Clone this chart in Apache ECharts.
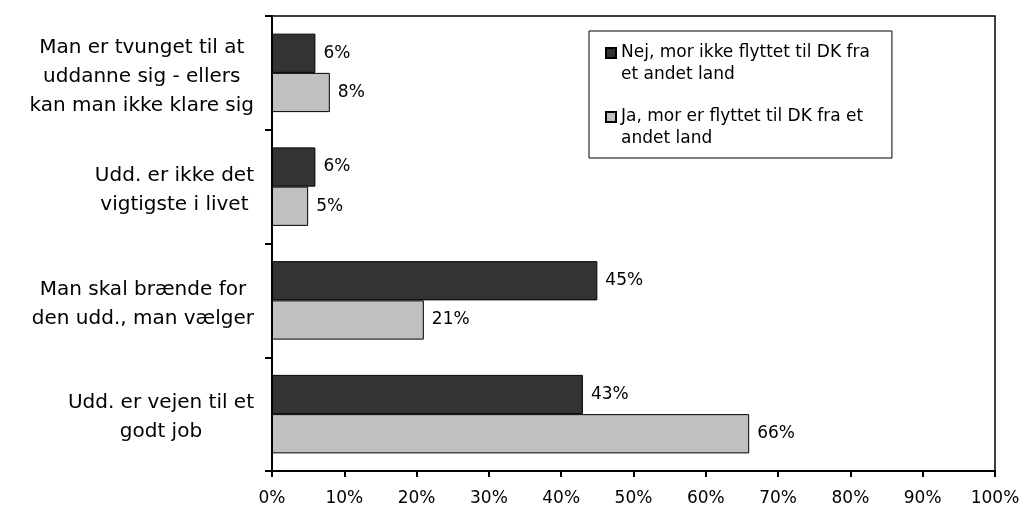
<!DOCTYPE html>
<html>
<head>
<meta charset="utf-8">
<script src="https://cdn.jsdelivr.net/npm/echarts@6/dist/echarts.min.js"></script>
<style>
html,body{margin:0;padding:0;background:#fff;}
#chart{width:1024px;height:507px;}
</style>
</head>
<body>
<div id="chart"></div>
<script>
const categories = [
  "Man er tvunget til at\nuddanne sig - ellers\nkan man ikke klare sig",
  "Udd. er ikke det\nvigtigste i livet",
  "Man skal brænde for\nden udd., man vælger",
  "Udd. er vejen til et\ngodt job"
];
const seriesNames = [
  "Nej, mor ikke flyttet til DK fra\net andet land",
  "Ja, mor er flyttet til DK fra et\nandet land"
];
const nejValues = [6, 6, 45, 43];
const jaValues = [8, 5, 21, 66];
const tickValues = [0, 10, 20, 30, 40, 50, 60, 70, 80, 90, 100];

const FONT = "'DejaVu Sans', Verdana, sans-serif";
const iconPath = 'path://M0,0 L10,0 L10,10 L0,10 Z M10,32 L10,32';

const chart = echarts.init(document.getElementById('chart'), null, {renderer: 'canvas'});
chart.setOption({
  animation: false,
  backgroundColor: '#fff',
  textStyle: {fontFamily: FONT, color: '#000'},
  grid: {
    left: 272, right: 29, top: 16, bottom: 36,
    show: true, borderColor: '#000', borderWidth: 1.5, backgroundColor: 'transparent'
  },
  legend: {
    orient: 'vertical',
    left: 589, top: 31,
    data: seriesNames,
    icon: iconPath,
    itemWidth: 10, itemHeight: 32,
    itemGap: 20,
    padding: [11, 22, 8, 16],
    borderColor: '#000', borderWidth: 1,
    backgroundColor: '#fff',
    textStyle: {fontFamily: FONT, fontSize: 17, lineHeight: 22, color: '#000'}
  },
  xAxis: {
    type: 'value',
    min: tickValues[0], max: tickValues[tickValues.length - 1], interval: 10,
    axisLine: {show: true, lineStyle: {color: '#000', width: 2}},
    axisTick: {show: true, length: 6, lineStyle: {color: '#000', width: 2}},
    splitLine: {show: false},
    axisLabel: {fontFamily: FONT, fontSize: 17, color: '#000', margin: 19,
      formatter: v => v + '%'}
  },
  yAxis: {
    type: 'category',
    data: categories,
    inverse: true,
    axisLine: {show: true, lineStyle: {color: '#000', width: 2}},
    axisTick: {show: true, length: 7, alignWithLabel: false, lineStyle: {color: '#000', width: 2}},
    axisLabel: {
      margin: 18,
      align: 'right',
      color: '#000',
      padding: [7, 0, 0, 0],
      formatter: v => v.split('\n').map(l => '{c|' + l + '}').join('\n'),
      rich: {c: {align: 'center', fontFamily: FONT, fontSize: 20, lineHeight: 29, color: '#000'}}
    }
  },
  series: [
    {
      name: seriesNames[0], type: 'bar', data: nejValues,
      barGap: '0%', barCategoryGap: '31%',
      itemStyle: {color: '#333333', borderColor: '#000', borderWidth: 1},
      label: {show: true, position: 'right', distance: 8, formatter: '{c}%',
        fontFamily: FONT, fontSize: 17, color: '#000'}
    },
    {
      name: seriesNames[1], type: 'bar', data: jaValues,
      barGap: '0%', barCategoryGap: '31%',
      itemStyle: {color: '#c0c0c0', borderColor: '#000', borderWidth: 1},
      label: {show: true, position: 'right', distance: 8, formatter: '{c}%',
        fontFamily: FONT, fontSize: 17, color: '#000'}
    }
  ]
});
</script>
</body>
</html>
